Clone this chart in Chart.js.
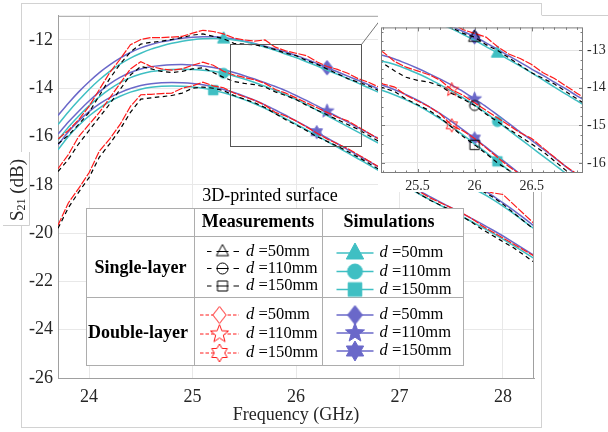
<!DOCTYPE html>
<html>
<head>
<meta charset="utf-8">
<script src="https://cdn.jsdelivr.net/npm/chart.js@4.4.0/dist/chart.umd.min.js"></script>
<style>
  body { margin: 0; background: #fff; }
  #wrap { position: relative; width: 608px; height: 432px; overflow: hidden; }
  #main { position: absolute; left: 0; top: 0; }
  #insetBox { position: absolute; left: 378px; top: 15px; width: 230px; height: 177px; background: #fff; }
  #inset { display: block; }
</style>
</head>
<body>
<div id="wrap">
  <canvas id="main" width="608" height="432"></canvas>
  <div id="insetBox"><canvas id="inset" width="230" height="177"></canvas></div>
</div>

<script>
// frequency axis (GHz)
const freq = [23.7,23.8,23.9,24.0,24.1,24.2,24.3,24.4,24.5,24.6,24.7,24.8,24.9,25.0,25.1,25.2,25.3,25.4,25.5,25.6,
              25.7,25.8,25.9,26.0,26.1,26.2,26.3,26.4,26.5,26.6,26.7,26.8,26.9,27.0,27.1,27.2,27.3,27.4,27.5,27.6,
              27.7,27.8,27.9,28.0,28.1,28.2,28.3];

// measurements, single layer (black dashed)
const measSL50  = [-16.3,-15.95,-15.5,-15.0,-14.3,-13.6,-13.0,-12.5,-12.17,-12.1,-12.05,-11.98,-11.9,-11.8,-11.75,-11.85,-11.95,-12.14,-12.17,-12.2,
                   -12.28,-12.4,-12.55,-12.65,-12.85,-13.0,-13.2,-13.4,-13.6,-13.75,-13.9,-14.1,-14.3,-14.5,-14.72,-14.95,-15.17,-15.4,-15.62,-15.85,
                   -16.07,-16.3,-16.52,-16.75,-16.97,-17.2,-17.42];
const measSL110 = [-17.45,-16.95,-16.3,-15.75,-15.2,-14.65,-14.05,-13.45,-13.1,-13.2,-13.3,-13.35,-13.3,-13.2,-13.15,-13.35,-13.55,-13.72,-13.8,-13.85,
                   -13.95,-14.15,-14.3,-14.47,-14.7,-14.9,-15.1,-15.3,-15.5,-15.7,-15.95,-16.2,-16.4,-16.6,-16.8,-17.0,-17.2,-17.4,-17.6,-17.8,
                   -18.0,-18.25,-18.5,-18.8,-19.15,-19.5,-19.85];
const measSL150 = [-19.8,-18.95,-18.3,-17.7,-16.85,-16.3,-15.7,-15.0,-14.45,-14.4,-14.35,-14.3,-14.2,-14.0,-13.95,-14.0,-14.1,-14.3,-14.45,-14.6,
                   -14.8,-15.05,-15.3,-15.52,-15.75,-16.0,-16.2,-16.4,-16.62,-16.85,-17.1,-17.35,-17.6,-17.85,-18.1,-18.4,-18.65,-18.85,-19.05,-19.3,
                   -19.55,-19.85,-20.1,-20.35,-20.6,-20.9,-21.2];

// measurements, double layer (red dashed)
const measDL50  = [-16.1,-15.75,-15.3,-14.75,-14.05,-13.35,-12.8,-12.2,-11.98,-11.9,-11.9,-11.88,-11.85,-11.72,-11.6,-11.65,-11.75,-11.92,-12.0,-12.05,
                   -12.0,-12.3,-12.45,-12.55,-12.65,-12.9,-13.1,-13.22,-13.38,-13.6,-13.75,-13.95,-14.15,-14.35,-14.55,-14.8,-15.0,-15.25,-15.45,-15.7,
                   -15.9,-16.15,-16.4,-16.6,-16.85,-17.1,-17.35];
const measDL110 = [-17.33,-16.75,-16.0,-15.5,-15.0,-14.4,-13.8,-13.2,-12.9,-13.1,-13.2,-13.25,-13.2,-13.05,-12.92,-13.05,-13.3,-13.45,-13.55,-13.65,
                   -13.8,-14.05,-14.2,-14.4,-14.6,-14.8,-15.0,-15.2,-15.35,-15.6,-15.85,-16.1,-16.3,-16.5,-16.7,-16.9,-17.1,-17.3,-17.5,-17.75,
                   -17.95,-18.2,-18.33,-18.4,-18.8,-19.2,-19.6];
const measDL150 = [-19.67,-18.75,-18.15,-17.5,-16.6,-16.1,-15.5,-14.75,-14.27,-14.25,-14.22,-14.2,-14.0,-13.9,-13.75,-13.9,-13.98,-14.2,-14.35,-14.5,
                   -14.7,-15.0,-15.15,-15.35,-15.6,-15.85,-16.1,-16.3,-16.5,-16.75,-17.0,-17.25,-17.5,-17.75,-18.05,-18.3,-18.55,-18.75,-18.95,-19.15,
                   -19.4,-19.7,-19.95,-20.2,-20.45,-20.7,-20.95];

// simulations, single layer (cyan)
const simSL50  = [-15.5,-14.98,-14.5,-14.05,-13.65,-13.3,-13.0,-12.75,-12.55,-12.38,-12.25,-12.14,-12.05,-11.99,-11.95,-11.94,-11.95,-12.0,-12.07,-12.17,
                  -12.3,-12.43,-12.58,-12.73,-12.9,-13.07,-13.25,-13.42,-13.6,-13.79,-13.98,-14.17,-14.35,-14.55,-14.75,-14.95,-15.15,-15.35,-15.55,-15.75,
                  -15.95,-16.15,-16.35,-16.55,-16.75,-16.95,-17.15];
const simSL110 = [-16.15,-15.62,-15.15,-14.73,-14.36,-14.04,-13.77,-13.56,-13.41,-13.31,-13.25,-13.22,-13.21,-13.22,-13.25,-13.3,-13.38,-13.49,-13.62,-13.76,
                  -13.92,-14.09,-14.27,-14.46,-14.67,-14.9,-15.13,-15.36,-15.59,-15.82,-16.05,-16.28,-16.5,-16.72,-16.93,-17.14,-17.34,-17.54,-17.74,-17.94,
                  -18.14,-18.35,-18.6,-18.88,-19.18,-19.5,-19.82];
const simSL150 = [-16.55,-16.0,-15.54,-15.15,-14.82,-14.55,-14.33,-14.16,-14.04,-13.96,-13.92,-13.91,-13.92,-13.95,-14.0,-14.08,-14.19,-14.32,-14.47,-14.64,
                  -14.83,-15.04,-15.26,-15.49,-15.72,-15.96,-16.2,-16.44,-16.68,-16.92,-17.16,-17.41,-17.66,-17.91,-18.16,-18.4,-18.63,-18.86,-19.08,-19.3,
                  -19.53,-19.76,-20.0,-20.25,-20.51,-20.78,-21.05];

// simulations, double layer (purple)
const simDL50  = [-15.13,-14.62,-14.15,-13.73,-13.35,-13.03,-12.75,-12.52,-12.33,-12.19,-12.08,-12.0,-11.93,-11.89,-11.87,-11.87,-11.9,-11.96,-12.05,-12.15,
                  -12.26,-12.37,-12.5,-12.64,-12.8,-12.97,-13.15,-13.32,-13.5,-13.67,-13.85,-14.03,-14.22,-14.4,-14.6,-14.8,-15.0,-15.2,-15.4,-15.6,
                  -15.8,-16.0,-16.2,-16.4,-16.6,-16.8,-17.0];
const simDL110 = [-15.9,-15.4,-14.95,-14.53,-14.15,-13.82,-13.55,-13.35,-13.2,-13.11,-13.06,-13.03,-13.02,-13.04,-13.08,-13.14,-13.23,-13.35,-13.48,-13.62,
                  -13.77,-13.93,-14.1,-14.3,-14.5,-14.72,-14.95,-15.18,-15.4,-15.63,-15.86,-16.1,-16.33,-16.56,-16.78,-17.0,-17.2,-17.4,-17.6,-17.8,
                  -18.0,-18.2,-18.45,-18.75,-19.05,-19.37,-19.7];
const simDL150 = [-16.35,-15.8,-15.35,-14.97,-14.65,-14.39,-14.18,-14.01,-13.89,-13.81,-13.77,-13.76,-13.77,-13.8,-13.86,-13.94,-14.05,-14.18,-14.33,-14.5,
                  -14.69,-14.9,-15.12,-15.35,-15.58,-15.82,-16.06,-16.3,-16.54,-16.78,-17.02,-17.27,-17.52,-17.77,-18.02,-18.27,-18.5,-18.73,-18.95,-19.17,
                  -19.4,-19.63,-19.87,-20.12,-20.38,-20.65,-20.92];

const distances = ['50', '110', '150'];
const mainXTicks = [24, 25, 26, 27, 28];
const mainYTicks = [-26, -24, -22, -20, -18, -16, -14, -12];
const insetXTicks = [25.5, 26, 26.5];
const insetYTicks = [-16, -15, -14, -13];

const serif = "'Liberation Serif', 'Times New Roman', serif";
const CYAN = '#3fbfc3', PURPLE = '#6a68c9', RED = '#ff1a1a';
const axisGray = '#a0a0a0', gridGray = '#e8e8e8', tickText = '#262626';

// series styling; mainAt / insetAt = frequency where the single marker sits
const series = [
  { values: measSL50,  d: 0, kind: 'blk', color: '#000', mark: 'triangle', mainAt: null, insetAt: 26.0, legY: 251.5 },
  { values: measSL110, d: 1, kind: 'blk', color: '#000', mark: 'circle',   mainAt: null, insetAt: 26.0, legY: 268.5 },
  { values: measSL150, d: 2, kind: 'blk', color: '#000', mark: 'square',   mainAt: null, insetAt: 26.0, legY: 286 },
  { values: measDL50,  d: 0, kind: 'red', color: RED, mark: 'diamond', mainAt: null, insetAt: null, legY: 315 },
  { values: measDL110, d: 1, kind: 'red', color: RED, mark: 'star5',   mainAt: null, insetAt: 25.8, legY: 334 },
  { values: measDL150, d: 2, kind: 'red', color: RED, mark: 'star6',   mainAt: null, insetAt: 25.8, legY: 353 },
  { values: simSL50,  d: 0, kind: 'sim', color: CYAN, mark: 'triangle', mainAt: 25.3, insetAt: 26.2, legY: 253 },
  { values: simSL110, d: 1, kind: 'sim', color: CYAN, mark: 'circle',   mainAt: 25.3, insetAt: 26.2, legY: 271.5 },
  { values: simSL150, d: 2, kind: 'sim', color: CYAN, mark: 'square',   mainAt: 25.2, insetAt: 26.2, legY: 289.5 },
  { values: simDL50,  d: 0, kind: 'sim', color: PURPLE, mark: 'diamond', mainAt: 26.3, insetAt: 26.0, legY: 315 },
  { values: simDL110, d: 1, kind: 'sim', color: PURPLE, mark: 'star5',   mainAt: 26.3, insetAt: 26.0, legY: 333 },
  { values: simDL150, d: 2, kind: 'sim', color: PURPLE, mark: 'star6',   mainAt: 26.2, insetAt: 26.0, legY: 351 }
];

const plotSize = { triangle: 7, circle: 5, square: 4.7, diamond: 7.3, star5: 7.2, star6: 6.6 };
const legSize = {
  blk: { triangle: 7, circle: 5.5, square: 5 },
  red: { diamond: 8.5, star5: 9.5, star6: 9 },
  sim: { triangle: 10, circle: 7.5, square: 6.8, diamond: 9.5, star5: 10, star6: 10 }
};

// insets zoom box on the main axes
const zoomBox = { x0: 25.36, x1: 26.63, y0: -16.38, y1: -12.17 };

function shapePath(g, type, s) {
  if (type === 'circle') {
    g.arc(0, 0, s, 0, Math.PI * 2);
  } else if (type === 'square') {
    g.rect(-s, -s, 2 * s, 2 * s);
  } else if (type === 'triangle') {
    g.moveTo(0, -s); g.lineTo(s * 0.87, s * 0.6); g.lineTo(-s * 0.87, s * 0.6); g.closePath();
  } else if (type === 'diamond') {
    g.moveTo(0, -s); g.lineTo(s * 0.78, 0); g.lineTo(0, s); g.lineTo(-s * 0.78, 0); g.closePath();
  } else {
    const n = type === 'star5' ? 5 : 6;
    const ri = type === 'star5' ? s * 0.42 : s * 0.58;
    for (let i = 0; i < 2 * n; i++) {
      const r = i % 2 ? ri : s;
      const a = -Math.PI / 2 + i * Math.PI / n;
      if (i === 0) g.moveTo(r * Math.cos(a), r * Math.sin(a));
      else g.lineTo(r * Math.cos(a), r * Math.sin(a));
    }
    g.closePath();
  }
}

function makeMarker(type, s, fill, stroke) {
  const w = Math.ceil(2 * s + 4);
  const c = document.createElement('canvas');
  c.width = w; c.height = w;
  const g = c.getContext('2d');
  g.translate(w / 2, w / 2);
  g.beginPath();
  shapePath(g, type, s);
  if (fill) { g.fillStyle = fill; g.fill(); }
  if (stroke) { g.strokeStyle = stroke; g.lineWidth = 1; g.stroke(); }
  return c;
}

function markerFor(s, size, legend) {
  if (s.kind === 'sim') return makeMarker(s.mark, size, s.color, s.color);
  if (s.kind === 'red') return makeMarker(s.mark, size, legend ? '#fff' : null, s.color);
  return makeMarker(s.mark, size, null, s.color);
}

function buildDatasets(where) {
  return series.map(s => ({
    data: freq.map((f, i) => ({ x: f, y: s.values[i] })),
    borderColor: s.color,
    borderWidth: s.kind === 'sim' ? 1.5 : 1.2,
    borderDash: s.kind === 'blk' ? [4.5, 3.5] : (s.kind === 'red' ? [8, 1.5] : []),
    tension: s.kind === 'sim' ? 0.25 : 0,
    fill: false,
    clip: 0,
    pointStyle: markerFor(s, plotSize[s.mark], false),
    pointRadius: c => (s[where] !== null && Math.abs(freq[c.dataIndex] - s[where]) < 1e-6) ? 6 : 0,
    pointHoverRadius: 0,
    pointHitRadius: 0
  }));
}

function drawLegend(g) {
  const L = 86, T = 208, R = 463, B = 365;
  g.fillStyle = '#fff';
  g.fillRect(L, T, R - L, B - T);
  g.strokeStyle = '#adadad'; g.lineWidth = 1; g.setLineDash([]);
  g.strokeRect(L + 0.5, T + 0.5, R - L, B - T);
  g.beginPath();
  [194, 322].forEach(x => { g.moveTo(x + 0.5, T); g.lineTo(x + 0.5, B); });
  [236, 297].forEach(y => { g.moveTo(L, y + 0.5); g.lineTo(R, y + 0.5); });
  g.stroke();

  g.fillStyle = '#000';
  g.textBaseline = 'middle';
  g.textAlign = 'center';
  g.font = '18px ' + serif;
  g.fillText('3D-printed surface', 270, 196);
  g.font = 'bold 18px ' + serif;
  g.fillText('Measurements', 258, 222.5);
  g.fillText('Simulations', 389, 222.5);
  g.fillText('Single-layer', 140.5, 268.5);
  g.fillText('Double-layer', 138, 333);

  series.forEach(s => {
    const y = s.legY;
    let mx, tx;
    g.strokeStyle = s.color;
    if (s.kind === 'sim') {
      g.lineWidth = 1.5; g.setLineDash([]);
      g.beginPath(); g.moveTo(336.5, y); g.lineTo(373.5, y); g.stroke();
      mx = 355; tx = 379.5;
    } else if (s.kind === 'blk') {
      g.lineWidth = 1.2; g.setLineDash([]);
      g.beginPath();
      [[207, 211.5], [216.5, 228.5], [233.5, 239]].forEach(p => { g.moveTo(p[0], y); g.lineTo(p[1], y); });
      g.stroke();
      mx = 222.5; tx = 246;
    } else {
      g.lineWidth = 1; g.setLineDash([3.5, 2]);
      g.beginPath(); g.moveTo(200, y); g.lineTo(239, y); g.stroke();
      g.setLineDash([]);
      mx = 219.5; tx = 246;
    }
    const m = markerFor(s, legSize[s.kind][s.mark], true);
    g.drawImage(m, mx - m.width / 2, y - m.height / 2);

    g.textAlign = 'left';
    g.fillStyle = '#000';
    g.font = 'italic 16.5px ' + serif;
    g.fillText('d', tx, y);
    const w = g.measureText('d').width;
    g.font = '16.5px ' + serif;
    g.fillText(' =' + distances[s.d] + 'mm', tx + w, y);
  });
}

function drawYTitle(g) {
  g.save();
  g.fillStyle = '#fff';
  g.fillRect(3, 152, 26, 73);
  g.strokeStyle = '#cfcfcf'; g.lineWidth = 1;
  g.beginPath();
  g.moveTo(29.5, 152); g.lineTo(29.5, 225.5); g.lineTo(3, 225.5);
  g.stroke();
  g.translate(18, 190);
  g.rotate(-Math.PI / 2);
  g.fillStyle = tickText;
  g.textBaseline = 'middle';
  g.textAlign = 'left';
  const big = '19px ' + serif, small = '12px ' + serif;
  g.font = big; const w1 = g.measureText('S').width;
  g.font = small; const w2 = g.measureText('21').width;
  g.font = big; const w3 = g.measureText(' (dB)').width;
  let x = -(w1 + w2 + w3) / 2;
  g.font = big; g.fillText('S', x, 0); x += w1;
  g.font = small; g.fillText('21', x, 4); x += w2;
  g.font = big; g.fillText(' (dB)', x, 0);
  g.restore();
}

const mainExtras = {
  id: 'mainExtras',
  beforeDraw(chart) {
    const g = chart.ctx;
    g.save();
    g.fillStyle = '#fff';
    g.fillRect(0, 0, chart.width, chart.height);
    g.strokeStyle = '#d2d2d2'; g.lineWidth = 1;
    g.strokeRect(21.5, 3.5, 520, 424);
    g.restore();
  },
  afterDatasetsDraw(chart) {
    const g = chart.ctx, a = chart.chartArea, xs = chart.scales.x, ys = chart.scales.y;
    g.save();
    g.strokeStyle = axisGray; g.lineWidth = 1;
    g.beginPath();
    g.moveTo(a.left, a.top + 0.5); g.lineTo(a.right, a.top + 0.5);
    g.moveTo(a.right - 0.5, a.top); g.lineTo(a.right - 0.5, a.bottom);
    g.stroke();

    const rx0 = Math.round(xs.getPixelForValue(zoomBox.x0)) + 0.5;
    const rx1 = Math.round(xs.getPixelForValue(zoomBox.x1)) + 0.5;
    const ry0 = Math.round(ys.getPixelForValue(zoomBox.y0)) + 0.5;
    const ry1 = Math.round(ys.getPixelForValue(zoomBox.y1)) + 0.5;
    g.strokeStyle = '#555';
    g.strokeRect(rx0, ry1, rx1 - rx0, ry0 - ry1);
    g.strokeStyle = '#777';
    g.beginPath(); g.moveTo(rx1, ry1); g.lineTo(381, 19); g.stroke();

    drawLegend(g);
    drawYTitle(g);
    g.restore();
  }
};

const insetExtras = {
  id: 'insetExtras',
  afterDatasetsDraw(chart) {
    const g = chart.ctx, a = chart.chartArea, xs = chart.scales.x, ys = chart.scales.y;
    g.save();
    g.strokeStyle = '#7d7d7d'; g.lineWidth = 1;
    g.strokeRect(a.left + 0.5, a.top + 0.5, a.right - a.left - 1, a.bottom - a.top - 1);
    g.beginPath();
    for (let k = 252; k <= 269; k++) {
      const v = k / 10;
      const px = Math.round(xs.getPixelForValue(v)) + 0.5;
      const len = (k % 5 === 0) ? 4 : 2.5;
      g.moveTo(px, a.top); g.lineTo(px, a.top + len);
      g.moveTo(px, a.bottom); g.lineTo(px, a.bottom - len);
    }
    for (let k = -65; k <= -50; k++) {
      const v = k / 4;
      const py = Math.round(ys.getPixelForValue(v)) + 0.5;
      const len = (k % 4 === 0) ? 4 : 2.5;
      g.moveTo(a.left, py); g.lineTo(a.left + len, py);
      g.moveTo(a.right, py); g.lineTo(a.right - len, py);
    }
    g.stroke();
    g.strokeStyle = '#cfcfcf';
    g.beginPath(); g.moveTo(163.7, 0.5); g.lineTo(230, 0.5); g.stroke();
    g.restore();
  }
};

function setTicks(list) {
  return scale => { scale.ticks = list.map(v => ({ value: v })); };
}

new Chart(document.getElementById('main'), {
  type: 'line',
  data: { datasets: buildDatasets('mainAt') },
  plugins: [mainExtras],
  options: {
    responsive: false,
    animation: false,
    devicePixelRatio: 1,
    layout: { padding: { left: 0, top: 15, right: 74, bottom: 0 } },
    plugins: { legend: { display: false }, tooltip: { enabled: false } },
    scales: {
      x: {
        type: 'linear', min: 23.7, max: 28.3,
        afterBuildTicks: setTicks(mainXTicks),
        afterFit: s => { s.height = 54; },
        grid: { color: gridGray, drawTicks: false },
        border: { color: axisGray },
        ticks: { font: { family: serif, size: 18 }, color: tickText, padding: 8, maxRotation: 0, callback: v => String(v) },
        title: { display: true, text: 'Frequency (GHz)', font: { family: serif, size: 18 }, color: tickText, padding: { top: 0, bottom: 6 } }
      },
      y: {
        type: 'linear', min: -26, max: -11,
        afterBuildTicks: setTicks(mainYTicks),
        afterFit: s => { s.width = 58; },
        grid: { color: gridGray, drawTicks: false },
        border: { color: axisGray },
        ticks: { font: { family: serif, size: 18 }, color: tickText, padding: 5, callback: v => String(v) }
      }
    }
  }
});

new Chart(document.getElementById('inset'), {
  type: 'line',
  data: { datasets: buildDatasets('insetAt') },
  plugins: [insetExtras],
  options: {
    responsive: false,
    animation: false,
    devicePixelRatio: 1,
    layout: { padding: { left: 3, top: 4, right: 0, bottom: 0 } },
    plugins: { legend: { display: false }, tooltip: { enabled: false } },
    scales: {
      x: {
        type: 'linear', min: 25.18, max: 26.95,
        afterBuildTicks: setTicks(insetXTicks),
        afterFit: s => { s.height = 19; },
        grid: { color: '#e3e3e3', drawTicks: false },
        border: { display: false },
        ticks: { font: { family: serif, size: 14 }, color: tickText, padding: 5, maxRotation: 0, callback: v => String(v) }
      },
      y: {
        type: 'linear', position: 'right', min: -16.27, max: -12.39,
        afterBuildTicks: setTicks(insetYTicks),
        afterFit: s => { s.width = 25; },
        grid: { color: '#e3e3e3', drawTicks: false },
        border: { display: false },
        ticks: { font: { family: serif, size: 14 }, color: tickText, padding: 4, callback: v => String(v) }
      }
    }
  }
});
</script>
</body>
</html>
